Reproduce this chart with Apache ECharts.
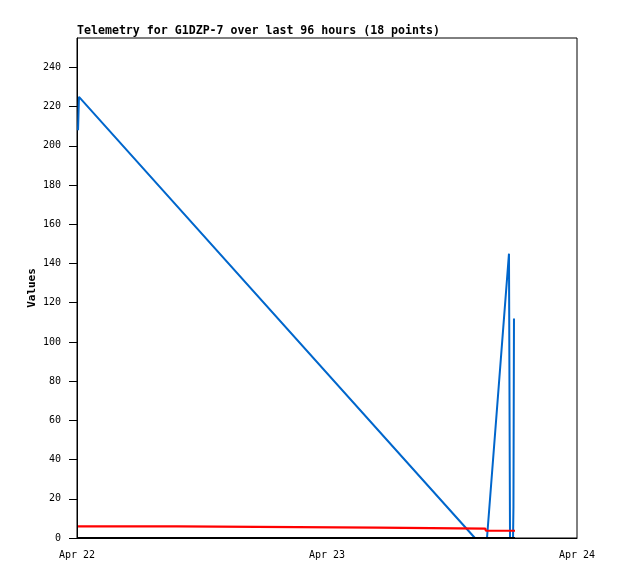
<!DOCTYPE html>
<html>
<head>
<meta charset="utf-8">
<script src="https://cdn.jsdelivr.net/npm/echarts@6/dist/echarts.min.js"></script>
<style>html,body{margin:0;padding:0;background:#fff}#c{width:618px;height:579px}</style>
</head>
<body>
<div id="c"></div>
<script>
// Hours since Apr 22 00:00
const blueHours = [0.1, 0.19, 38.2, 39.36, 41.47, 41.57, 41.86, 41.9, 41.95];
const blueValues = [208, 225, 0, 0, 145, 0, 0, 16, 112];
const redHours = [0.1, 9.6, 9.62, 28.8, 28.82, 39.2, 39.25, 42.05];
const redValues = [5.9, 5.9, 5.3, 5.3, 4.8, 4.8, 3.7, 3.7];
const blackHours = [0.1, 42.05];
const blackValues = [0, 0];
const xTickHours = [0, 24, 48];
const xTickLabels = ['Apr 22', 'Apr 23', 'Apr 24'];
const yTicks = [0, 20, 40, 60, 80, 100, 120, 140, 160, 180, 200, 220, 240];
const titleText = 'Telemetry for G1DZP-7 over last 96 hours (18 points)';

const zip = (xs, ys) => xs.map((x, i) => [x, ys[i]]);
const mono = 'DejaVu Sans Mono';
const chart = echarts.init(document.getElementById('c'), null, {renderer: 'canvas'});
chart.setOption({
  animation: false,
  backgroundColor: '#fff',
  title: {
    text: titleText, left: 77, top: 25, padding: 0,
    textStyle: {fontFamily: mono, fontWeight: 'bold', fontSize: 11.6, color: '#000'}
  },
  grid: {left: 77, right: 41, top: 38, bottom: 41, show: true, borderColor: '#000', borderWidth: 1, backgroundColor: 'transparent'},
  xAxis: {
    type: 'value', min: 0, max: 48,
    axisLine: {show: true, lineStyle: {color: '#000', width: 1}},
    axisTick: {show: false},
    splitLine: {show: false},
    axisLabel: {
      customValues: xTickHours, margin: 12,
      fontFamily: mono, fontSize: 10, color: '#000',
      formatter: v => xTickLabels[xTickHours.indexOf(v)] || ''
    }
  },
  yAxis: {
    type: 'value', min: 0, max: 255,
    name: 'Values', nameLocation: 'middle', nameGap: 39, nameMoveOverlap: false,
    nameTextStyle: {fontFamily: mono, fontWeight: 'bold', fontSize: 11, color: '#000'},
    axisLine: {show: true, lineStyle: {color: '#000', width: 1}},
    axisTick: {show: true, customValues: yTicks, length: 8, lineStyle: {color: '#000'}},
    splitLine: {show: false},
    axisLabel: {customValues: yTicks, margin: 16, fontFamily: mono, fontSize: 10, color: '#000'}
  },
  series: [
    {type: 'line', data: zip(blueHours, blueValues), showSymbol: false, lineStyle: {color: '#0066cc', width: 2}, z: 2},
    {type: 'line', data: zip(redHours, redValues), showSymbol: false, lineStyle: {color: '#ff0000', width: 2.2}, z: 3},
    {type: 'line', data: zip(blackHours, blackValues), showSymbol: false, lineStyle: {color: '#000', width: 2}, z: 4}
  ]
});
</script>
</body>
</html>
